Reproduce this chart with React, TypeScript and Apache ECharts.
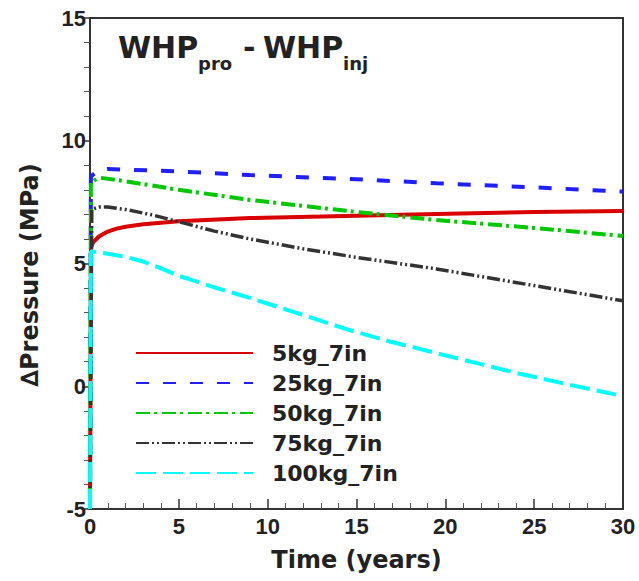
import React, { useEffect, useRef } from "react";
import * as echarts from "echarts";

const seriesNames = ["5kg_7in", "25kg_7in", "50kg_7in", "75kg_7in", "100kg_7in"];

const red5: [number, number][] = [[0, -5], [0.05, 5.6], [0.1, 5.75], [0.2, 5.88], [0.5, 6.1], [1, 6.3], [1.5, 6.42], [2, 6.5], [3, 6.6], [5, 6.72], [9, 6.85], [15, 6.95], [19.5, 7.02], [25, 7.1], [30, 7.14]];
const blue25: [number, number][] = [[0, -5], [0.05, 8.55], [0.5, 8.8], [1, 8.85], [5, 8.75], [9, 8.6], [15, 8.43], [19.5, 8.27], [25, 8.1], [30, 7.93]];
const green50: [number, number][] = [[0, -5], [0.05, 8.3], [0.5, 8.5], [2, 8.35], [5, 8.0], [9, 7.59], [15, 7.1], [19.5, 6.77], [25, 6.45], [30, 6.12]];
const black75: [number, number][] = [[0, -5], [0.1, 7.2], [0.5, 7.3], [1, 7.3], [2, 7.2], [3.5, 6.98], [5, 6.7], [7, 6.32], [9, 6.0], [12, 5.6], [15, 5.25], [19.5, 4.78], [25, 4.1], [30, 3.48]];
const cyan100: [number, number][] = [[0, -5], [0.05, 5.5], [1, 5.4], [2, 5.27], [3, 5.08], [4, 4.8], [5, 4.5], [7, 4.03], [9, 3.6], [12, 2.9], [14.6, 2.29], [17, 1.8], [19.5, 1.35], [22, 0.9], [24, 0.54], [27, 0.06], [30, -0.4]];

const allData = [red5, blue25, green50, black75, cyan100];
const colors = ["#d90000", "#1f1fff", "#00c800", "#333333", "#00ffff"];
const dashes: any[] = ["solid", [13, 14], [14, 4, 3, 5], [13, 3, 2, 3, 2, 3], [20, 7]];
const widths = [4, 4, 4, 3.5, 4];

export default function App() {
  const ref = useRef<HTMLDivElement>(null);
  useEffect(() => {
    if (!ref.current) return;
    const chart = echarts.init(ref.current, null, { renderer: "svg" });
    const titleFont = "DejaVu Sans";
    chart.setOption({
      animation: false,
      grid: { left: 90, top: 18, right: 16, bottom: 72, show: true, borderColor: "#333", borderWidth: 2, backgroundColor: "transparent" },
      legend: {
        orient: "vertical",
        left: 135,
        top: 342,
        padding: 0,
        itemWidth: 117,
        itemHeight: 14,
        itemGap: 8,
        data: seriesNames,
        itemStyle: { opacity: 0 },
        textStyle: { fontFamily: titleFont, fontWeight: "bold", fontSize: 22, lineHeight: 22, color: "#222", padding: [0, 0, 0, 14] },
      },
      xAxis: {
        type: "value",
        min: 0,
        max: 30,
        interval: 5,
        name: "Time (years)",
        nameLocation: "middle",
        nameGap: 39,
        nameTextStyle: { fontFamily: titleFont, fontWeight: "bold", fontSize: 24, color: "#222" },
        axisLine: { show: true, onZero: false, lineStyle: { color: "#333", width: 2 } },
        axisTick: { show: true, inside: true, length: 10, lineStyle: { color: "#333", width: 1.5 } },
        minorTick: { show: true, splitNumber: 5, length: 6, lineStyle: { color: "#555", width: 1 } },
        axisLabel: { fontFamily: "Liberation Sans", fontWeight: "bold", fontSize: 22, color: "#222", margin: 6 },
        splitLine: { show: false },
      },
      yAxis: {
        type: "value",
        min: -5,
        max: 15,
        interval: 5,
        axisLine: { show: true, onZero: false, lineStyle: { color: "#333", width: 2 } },
        axisTick: { show: true, inside: false, length: 8, lineStyle: { color: "#333", width: 1.5 } },
        minorTick: { show: true, splitNumber: 5, length: 6, lineStyle: { color: "#555", width: 1 } },
        axisLabel: { fontFamily: "Liberation Sans", fontWeight: "bold", fontSize: 22, color: "#222", margin: 4 },
        splitLine: { show: false },
      },
      graphic: [
        { type: "text", x: 30, y: 275, rotation: Math.PI / 2, style: { text: "\u2206Pressure (MPa)", fontFamily: titleFont, fontWeight: "bold", fontSize: 24, fill: "#222", align: "center", verticalAlign: "middle" } },
        { type: "text", x: 118, y: 47, style: { text: "WHP", fontFamily: titleFont, fontWeight: "bold", fontSize: 30, fill: "#222", align: "left", verticalAlign: "middle" } },
        { type: "text", x: 198, y: 63, style: { text: "pro", fontFamily: titleFont, fontWeight: "bold", fontSize: 18, fill: "#222", align: "left", verticalAlign: "middle" } },
        { type: "text", x: 243, y: 47, style: { text: "-", fontFamily: titleFont, fontWeight: "bold", fontSize: 30, fill: "#222", align: "left", verticalAlign: "middle" } },
        { type: "text", x: 263, y: 47, style: { text: "WHP", fontFamily: titleFont, fontWeight: "bold", fontSize: 30, fill: "#222", align: "left", verticalAlign: "middle" } },
        { type: "text", x: 343, y: 63, style: { text: "inj", fontFamily: titleFont, fontWeight: "bold", fontSize: 18, fill: "#222", align: "left", verticalAlign: "middle" } },
      ],
      series: allData.map((d, i) => ({
        name: seriesNames[i],
        type: "line",
        data: d,
        symbol: "none",
        showSymbol: false,
        smooth: false,
        color: colors[i],
        lineStyle: { color: colors[i], width: widths[i], type: dashes[i] },
      })),
    });
    return () => chart.dispose();
  }, []);
  return <div ref={ref} style={{ width: 639, height: 581, position: "absolute", left: 0, top: 0 }} />;
}
